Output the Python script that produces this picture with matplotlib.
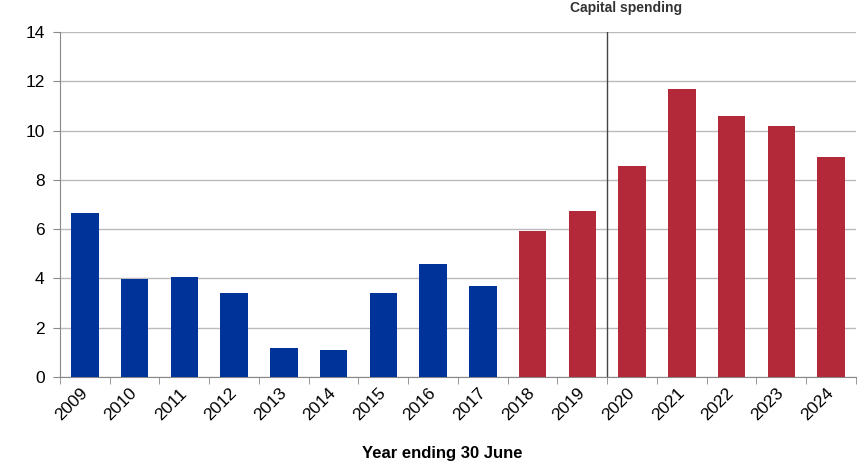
import matplotlib
matplotlib.use("Agg")
import matplotlib.pyplot as plt
import numpy as np

years = ["2009", "2010", "2011", "2012", "2013", "2014", "2015", "2016",
         "2017", "2018", "2019", "2020", "2021", "2022", "2023", "2024"]
actual = [6.66, 3.98, 4.06, 3.41, 1.18, 1.10, 3.41, 4.59, 3.69]
forecast = [5.93, 6.74, 8.56, 11.69, 10.59, 10.19, 8.93]
y_ticks = [0, 2, 4, 6, 8, 10, 12, 14]

plt.rcParams['font.family'] = ['Liberation Sans', 'DejaVu Sans']

fig = plt.figure(figsize=(8.62, 4.65), dpi=100)
ax = fig.add_axes([60/862, 1-377/465, 796/862, 345/465])

n_a = len(actual)
xa = np.arange(n_a)
xf = np.arange(n_a, n_a + len(forecast))
ax.bar(xa, actual, width=0.55, color="#00339A", zorder=3)
ax.bar(xf, forecast, width=0.55, color="#B3293A", zorder=3)

ax.set_xlim(-0.5, len(years) - 0.5)
ax.set_ylim(0, 14)
ax.set_yticks(y_ticks)
ax.set_yticklabels([str(v) for v in y_ticks], fontsize=12.5)
ax.set_xticks(np.arange(len(years)))
ax.set_xticklabels(years, rotation=45, fontsize=12.5, ha='right', va='center',
                   rotation_mode='anchor')
ax.tick_params(axis='x', which='major', length=0, pad=10)
ax.set_xticks(np.arange(-0.5, len(years)), minor=True)
ax.tick_params(axis='x', which='minor', length=5, color='#888888')
ax.tick_params(axis='y', length=5, color='#888888', pad=6)

ax.grid(axis='y', color='#BBBBBB', linewidth=1, zorder=0)
for s in ['top', 'right']:
    ax.spines[s].set_visible(False)
for s in ['left', 'bottom']:
    ax.spines[s].set_color('#888888')

ax.axvline(10.5, color='#444444', linewidth=1, zorder=4)

ax.set_xlabel("Year ending 30 June", fontsize=12, fontweight='bold')
ax.xaxis.set_label_coords(0.48, -0.2)

fig.text(570/862, 0.997, "Capital spending", fontsize=10, fontweight='bold',
         va='top', ha='left', color='#333333')

fig.savefig("out.png", dpi=100)
